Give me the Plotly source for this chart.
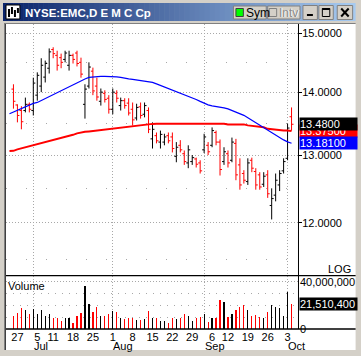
import math
import plotly.graph_objects as go

# ---------------- data ----------------
trading_days = {
    "2005-06": [23, 24, 27, 28, 29, 30],
    "2005-07": [1, 5, 6, 7, 8, 11, 12, 13, 14, 15, 18, 19, 20, 21, 22, 25, 26, 27, 28, 29],
    "2005-08": [1, 2, 3, 4, 5, 8, 9, 10, 11, 12, 15, 16, 17, 18, 19, 22, 23, 24, 25, 26, 29, 30, 31],
    "2005-09": [1, 2, 6, 7, 8, 9, 12, 13, 14, 15, 16, 19, 20, 21, 22, 23, 26, 27, 28, 29, 30],
    "2005-10": [3, 4],
}
all_days = [f"{m}-{d:02d}" for m, ds in trading_days.items() for d in ds]   # MA days
bar_days = all_days[1:]                                                     # price bars

opens = [14.05, 13.79, 13.70, 13.70, 13.80, 13.70, 13.95, 14.10, 14.25, 14.40,
         14.72, 14.62, 14.58, 14.55, 14.45, 14.62, 14.66, 14.50, 13.80, 14.10,
         14.35, 14.10, 13.85, 13.98, 13.90, 13.72, 13.98, 13.78, 13.86, 13.82,
         13.72, 13.58, 13.76, 13.64, 13.70, 13.25, 13.30, 13.20, 13.20, 13.30,
         13.28, 12.98, 13.15, 13.02, 12.88, 12.90, 12.94, 12.88, 13.08, 13.15,
         13.15, 13.35, 13.20, 12.90, 13.02, 12.92, 13.18, 12.85, 12.72, 12.60,
         12.92, 12.75, 12.70, 12.56, 12.70, 12.25, 12.40, 12.55, 12.76, 12.95,
         13.60]
highs = [14.13, 13.80, 13.77, 13.91, 13.83, 14.24, 14.33, 14.57, 14.53, 14.74,
         14.76, 14.70, 14.65, 14.70, 14.70, 14.65, 14.70, 14.58, 14.13, 14.50,
         14.41, 14.24, 14.06, 14.03, 13.95, 14.06, 14.03, 13.91, 13.90, 13.90,
         13.83, 13.81, 13.83, 13.83, 13.75, 13.51, 13.35, 13.38, 13.33, 13.35,
         13.35, 13.20, 13.23, 13.07, 13.15, 13.00, 12.96, 12.92, 13.33, 13.20,
         13.43, 13.38, 13.24, 13.12, 13.07, 13.27, 13.25, 12.95, 12.77, 12.95,
         12.96, 12.80, 12.74, 12.74, 12.77, 12.50, 12.72, 12.77, 12.95, 13.49,
         13.75]
lows = [13.73, 13.51, 13.40, 13.67, 13.67, 13.62, 13.86, 14.00, 14.16, 14.31,
        14.57, 14.36, 14.40, 14.50, 14.36, 14.48, 14.43, 14.24, 13.57, 14.06,
        13.95, 13.86, 13.78, 13.83, 13.65, 13.64, 13.83, 13.70, 13.73, 13.62,
        13.46, 13.54, 13.57, 13.59, 13.34, 13.10, 13.18, 13.10, 13.15, 13.18,
        13.04, 12.89, 13.04, 12.85, 12.80, 12.85, 12.81, 12.72, 13.03, 13.00,
        13.12, 13.15, 12.69, 12.85, 12.81, 12.89, 12.62, 12.48, 12.57, 12.55,
        12.74, 12.48, 12.48, 12.52, 12.36, 12.05, 12.31, 12.46, 12.72, 12.92,
        13.38]
closes = [13.85, 13.62, 13.52, 13.80, 13.72, 14.15, 14.28, 14.45, 14.48, 14.68,
          14.65, 14.45, 14.50, 14.66, 14.62, 14.55, 14.48, 14.30, 14.05, 14.42,
          14.02, 13.92, 14.00, 13.88, 13.72, 14.00, 13.90, 13.86, 13.78, 13.66,
          13.55, 13.75, 13.62, 13.78, 13.40, 13.40, 13.22, 13.32, 13.28, 13.22,
          13.10, 13.12, 13.08, 12.90, 13.08, 12.96, 12.86, 12.76, 13.28, 13.05,
          13.38, 13.20, 12.78, 13.05, 12.88, 13.20, 12.70, 12.55, 12.62, 12.88,
          12.80, 12.55, 12.52, 12.68, 12.42, 12.35, 12.62, 12.72, 12.90, 13.42,
          13.48]
volumes_m = [10.6, 13.4, 17.4, 16.3, 12.3, 16.9, 12.3, 15.7, 10.6, 12.9,
             9.7, 9.7, 6.6, 8.9, 8.9, 5.4, 10.6, 13.4, 36.3, 20.9,
             14.0, 18.3, 10.6, 11.4, 13.1, 15.1, 14.0, 9.7, 8.6, 9.1,
             9.1, 8.0, 7.4, 8.6, 14.9, 9.7, 8.9, 6.6, 6.6, 5.4,
             9.1, 8.6, 8.9, 12.3, 10.9, 7.1, 9.1, 10.3, 12.6, 6.0,
             9.7, 9.7, 24.9, 22.9, 10.3, 13.1, 16.3, 18.3, 20.0, 16.3,
             11.1, 12.0, 10.3, 9.7, 14.0, 20.0, 18.3, 17.7, 10.6, 31.1,
             21.5104]
ma_blue = [13.649, 13.678, 13.702, 13.734, 13.758, 13.791, 13.815, 13.831, 13.864, 13.897,
           13.929, 13.962, 13.987, 14.028, 14.061, 14.094, 14.127, 14.161, 14.194, 14.219,
           14.244, 14.253, 14.261, 14.261, 14.261, 14.261, 14.261, 14.253, 14.244, 14.227,
           14.219, 14.211, 14.202, 14.194, 14.186, 14.177, 14.161, 14.136, 14.111, 14.086,
           14.053, 14.028, 14.003, 13.979, 13.954, 13.929, 13.905, 13.880, 13.848, 13.815,
           13.791, 13.775, 13.767, 13.758, 13.742, 13.726, 13.702, 13.678, 13.654, 13.622,
           13.582, 13.542, 13.510, 13.470, 13.431, 13.383, 13.344, 13.305, 13.266, 13.234,
           13.203, 13.181]
ma_red = [13.061, 13.064, 13.087, 13.103, 13.118, 13.134, 13.149, 13.165, 13.180, 13.196,
          13.211, 13.227, 13.242, 13.258, 13.281, 13.297, 13.313, 13.336, 13.352, 13.360,
          13.367, 13.375, 13.383, 13.391, 13.399, 13.407, 13.415, 13.423, 13.431, 13.438,
          13.446, 13.454, 13.462, 13.470, 13.478, 13.478, 13.486, 13.489, 13.489, 13.490,
          13.490, 13.490, 13.491, 13.491, 13.490, 13.490, 13.489, 13.489, 13.489, 13.489,
          13.489, 13.489, 13.489, 13.489, 13.489, 13.478, 13.478, 13.478, 13.478, 13.478,
          13.462, 13.454, 13.446, 13.438, 13.431, 13.407, 13.399, 13.391, 13.391, 13.383,
          13.383, 13.375]

price_ticks = [12, 13, 14, 15]
price_minor = [11.5, 12.5, 13.5, 14.5]
volume_ticks = [0, 40e6]
volume_minor = [10e6, 20e6, 30e6]
label_days = ["2005-06-27", "2005-07-05", "2005-07-11", "2005-07-18", "2005-07-25",
              "2005-08-01", "2005-08-08", "2005-08-15", "2005-08-22", "2005-08-29",
              "2005-09-06", "2005-09-12", "2005-09-19", "2005-09-26", "2005-10-03"]
month_names = ["Jul", "Aug", "Sep", "Oct"]
month_starts = ["2005-07-01", "2005-08-01", "2005-09-01", "2005-10-03"]
title_text = "NYSE:EMC,D E M C Cp"

# ---------------- geometry / style ----------------
FONT = "Liberation Sans, Arial, sans-serif"
GRID = "#A8A8A8"
W, H = 361, 356
ML, MR, MT, MB = 6, 61, 24, 27
PW, PH = W - ML - MR, H - MT - MB


def fx(p):
    return (p - ML) / PW


def fy(p):
    return (H - MB - p) / PH


pos = {d: i - 1 for i, d in enumerate(all_days)}
bar_x = [pos[d] for d in bar_days]
ma_x = [pos[d] for d in all_days]
volumes = [v * 1e6 for v in volumes_m]
vol_colors = ["#000000" if c > o else "#FF0000" for o, c in zip(opens, closes)]

fig = go.Figure()
fig.add_trace(go.Scatter(x=ma_x, y=ma_red, mode="lines", line=dict(color="#FF0000", width=2),
                         xaxis="x", yaxis="y"))
fig.add_trace(go.Scatter(x=ma_x, y=ma_blue, mode="lines", line=dict(color="#0000FF", width=1.2),
                         xaxis="x", yaxis="y"))
fig.add_trace(go.Ohlc(x=bar_x, open=opens, high=highs, low=lows, close=closes,
                      increasing=dict(line=dict(color="#000000", width=1)),
                      decreasing=dict(line=dict(color="#FF0000", width=1)),
                      tickwidth=0.5, xaxis="x", yaxis="y"))
fig.add_trace(go.Bar(x=bar_x, y=volumes, marker=dict(color=vol_colors, line=dict(width=0)),
                     width=0.3, xaxis="x", yaxis="y2"))

shapes = []


def rect(x0, y0, x1, y1, fill, line=None, lw=0, layer="below"):
    shapes.append(dict(type="rect", xref="paper", yref="paper", x0=fx(x0), x1=fx(x1),
                       y0=fy(y1), y1=fy(y0), fillcolor=fill,
                       line=dict(color=line or fill, width=lw), layer=layer))


def seg(x0, y0, x1, y1, color, w=1, layer="above"):
    shapes.append(dict(type="line", xref="paper", yref="paper", x0=fx(x0), x1=fx(x1),
                       y0=fy(y0), y1=fy(y1), line=dict(color=color, width=w), layer=layer))


# white chart region and sunken border
rect(6, 24, 358, 350, "#FFFFFF")
seg(4.5, 23, 4.5, 350, "#808080", 1, "below")
seg(5.5, 23, 5.5, 350, "#404040", 1, "below")
seg(4, 23.5, 358, 23.5, "#808080", 1, "below")

# title bar gradient
n = 70
c0, c1 = (10, 36, 106), (166, 202, 240)
for k in range(n):
    t = k / (n - 1)
    col = "rgb(%d,%d,%d)" % tuple(round(a + (b - a) * t) for a, b in zip(c0, c1))
    xa = 3 + (358 - 3) * k / n
    xb = 3 + (358 - 3) * (k + 1) / n + 0.6
    rect(xa, 3, min(xb, 358), 21, col)

# icon
rect(6, 5, 20, 19, "#FFFFFF", "#000000", 1)
for xx, ya, yb in [(9, 9, 17), (12, 7, 14), (15, 10, 17), (18, 8, 13)]:
    seg(xx, ya, xx, yb, "#000000", 2, "below")

# Sym / Intv buttons
rect(235, 6, 268, 19, "#D4D0C8", "#808080", 1)
rect(237.5, 8.5, 245, 16.5, "#00FF00", "#404040", 1)
rect(269.5, 6, 302, 19, "#D4D0C8", "#808080", 1)
rect(271, 8.5, 278.5, 16.5, "#D4D0C8", "#808080", 1)
# min / max / close buttons
for a, b in [(305, 319.5), (321, 335.5), (339.5, 355)]:
    rect(a, 5.5, b, 19.5, "#D4D0C8", "#808080", 1)
rect(309, 14, 315, 16, "#000000")
rect(324.5, 8.5, 332, 16.5, "rgba(0,0,0,0)", "#000000", 1)
seg(324.5, 9, 332, 9, "#000000", 2, "below")
seg(343.5, 8.5, 351, 16.5, "#000000", 2, "below")
seg(343.5, 16.5, 351, 8.5, "#000000", 2, "below")

# frame lines of the chart
seg(300.5, 24, 300.5, 329, "#000000", 1)
seg(6, 275.7, 358, 275.7, "#000000", 1.3)
seg(6, 329, 358, 329, "#000000", 1.3)

annotations = []


def txt(x, y, text, size=11, color="#000000", xanchor="left", bold=False, **kw):
    annotations.append(dict(x=fx(x), y=fy(y), xref="paper", yref="paper", text=("<b>%s</b>" % text) if bold else text,
                            showarrow=False, xanchor=xanchor, yanchor="middle", borderpad=0,
                            font=dict(family=FONT, size=size, color=color), **kw))


txt(24, 12.5, title_text, size=11.5, color="#FFFFFF", bold=True)
txt(246.5, 13, "Sym", size=12)
txt(280.5, 13.5, "Intv", size=12, color="#FFFFFF")
txt(279.5, 12.5, "Intv", size=12, color="#8C8C8C")
txt(7, 285.7, "Volume", size=11)
txt(354, 268.5, "LOG", size=11, xanchor="right")

for name, d in zip(month_names, month_starts):
    annotations.append(dict(x=pos[d] - 0.1, xref="x", y=0, yref="paper", yshift=-16.5, text=name,
                            showarrow=False, xanchor="left", yanchor="middle", borderpad=0,
                            font=dict(family=FONT, size=11, color="#000000")))


def box(yval, yref, text, bg):
    annotations.append(dict(x=1, xref="paper", xanchor="left", xshift=0.5, y=yval, yref=yref,
                            yanchor="middle", text=text, showarrow=False, bgcolor=bg, width=57,
                            height=11.5, align="left", borderpad=0,
                            font=dict(family=FONT, size=11, color="#FFFFFF")))


box(math.log10(ma_red[-1]), "y", "%.5f" % ma_red[-1], "#FF0000")
box(math.log10(closes[-1]), "y", "%.4f" % closes[-1], "#000000")
box(math.log10(ma_blue[-1]), "y", "%.5f" % ma_blue[-1], "#0000FF")
box(volumes[-1], "y2", "{:,.0f}".format(volumes[-1]), "#000000")

tickfont = dict(family=FONT, size=11, color="#000000")
fig.update_layout(
    width=W, height=H,
    margin=dict(l=ML, r=MR, t=MT, b=MB, pad=0),
    paper_bgcolor="#D4D0C8", plot_bgcolor="rgba(0,0,0,0)",
    showlegend=False, hovermode=False, dragmode=False,
    bargap=0,
    xaxis=dict(domain=[0, 1], range=[-1.875, 71.625], anchor="y2", showgrid=False, zeroline=False,
               showline=False, ticks="", tickmode="array", tickvals=[pos[d] for d in label_days],
               ticktext=[str(int(d[-2:])) for d in label_days], tickfont=tickfont,
               ticklabelstandoff=0,
               minor=dict(tickmode="array", tickvals=[pos[d] for d in month_starts], showgrid=True,
                          gridcolor=GRID, griddash="1px,2px", gridwidth=1, ticks=""),
               rangeslider=dict(visible=False), fixedrange=True),
    yaxis=dict(domain=[0.1754, 1], type="log", range=[math.log10(11.28), math.log10(15.17)],
               side="right", anchor="x", tickmode="array", tickvals=price_ticks, tickformat=".4f",
               ticks="outside", ticklen=3, tickcolor="#000000", tickfont=tickfont,
               ticklabelstandoff=-2,
               showgrid=True, gridcolor=GRID, griddash="1px,2px", zeroline=False, showline=False,
               minor=dict(tickmode="array", tickvals=price_minor, showgrid=True, gridcolor=GRID,
                          griddash="1px,19px", ticks=""),
               fixedrange=True),
    yaxis2=dict(domain=[0, 0.1738], range=[0, 44.8e6], side="right", anchor="x",
                tickmode="array", tickvals=volume_ticks,
                ticktext=["{:,.0f}".format(v) for v in volume_ticks],
                ticks="", tickfont=tickfont, ticklabelstandoff=1,
                showgrid=True, gridcolor=GRID, griddash="1px,2px", zeroline=False, showline=False,
                minor=dict(tickmode="array", tickvals=volume_minor, showgrid=True, gridcolor=GRID,
                           griddash="1px,6px", ticks=""),
                fixedrange=True),
    shapes=shapes,
    annotations=annotations,
)

fig.write_html("out.html", config=dict(displayModeBar=False, staticPlot=True),
               post_script="document.body.style.margin='0px';document.body.style.overflow='hidden';")
